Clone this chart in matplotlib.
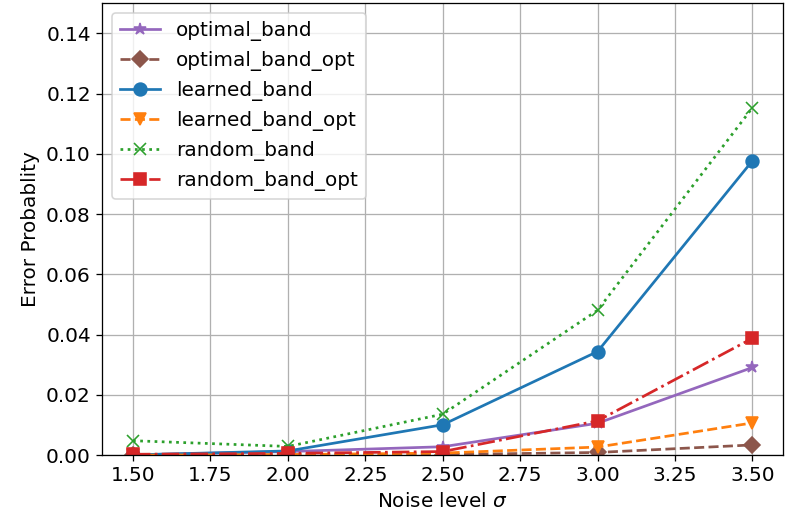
import numpy as np
import matplotlib
matplotlib.use("Agg")
import matplotlib.pyplot as plt

# --- DADOS ---
sigma = [1.5, 2.0, 2.5, 3.0, 3.5]
optimal_band = [0.0001, 0.0012, 0.0028, 0.0106, 0.0291]
optimal_band_opt = [0.0, 0.0001, 0.0002, 0.0009, 0.0034]
learned_band = [0.0001, 0.0014, 0.0101, 0.0344, 0.0977]
learned_band_opt = [0.0, 0.0002, 0.0007, 0.0027, 0.0107]
random_band = [0.0048, 0.0029, 0.0136, 0.0481, 0.1153]
random_band_opt = [0.0003, 0.0006, 0.0012, 0.0114, 0.0388]

plt.rcParams['font.size'] = 12.5
plt.rcParams['lines.linewidth'] = 1.7

DPI = 115
fig = plt.figure(figsize=(785 / DPI, 525 / DPI), dpi=DPI)
ax = fig.add_axes([0.130, 0.133, 0.868, 0.861])

ax.plot(sigma, optimal_band, '*-', color='C4', markersize=8, label='optimal_band')
ax.plot(sigma, optimal_band_opt, 'D--', color='C5', markersize=7, label='optimal_band_opt')
ax.plot(sigma, learned_band, 'o-', color='C0', markersize=8, label='learned_band')
ax.plot(sigma, learned_band_opt, 'v--', color='C1', markersize=8, label='learned_band_opt')
ax.plot(sigma, random_band, 'x:', color='C2', markersize=8, label='random_band')
ax.plot(sigma, random_band_opt, 's-.', color='C3', markersize=8, label='random_band_opt')

ax.set_ylim(0, 0.15)
ax.set_xlabel(r'Noise level $\sigma$')
ax.set_ylabel('Error Probablity')
ax.legend(loc='upper left')
ax.grid(True)

fig.savefig('out.png', dpi=DPI)
